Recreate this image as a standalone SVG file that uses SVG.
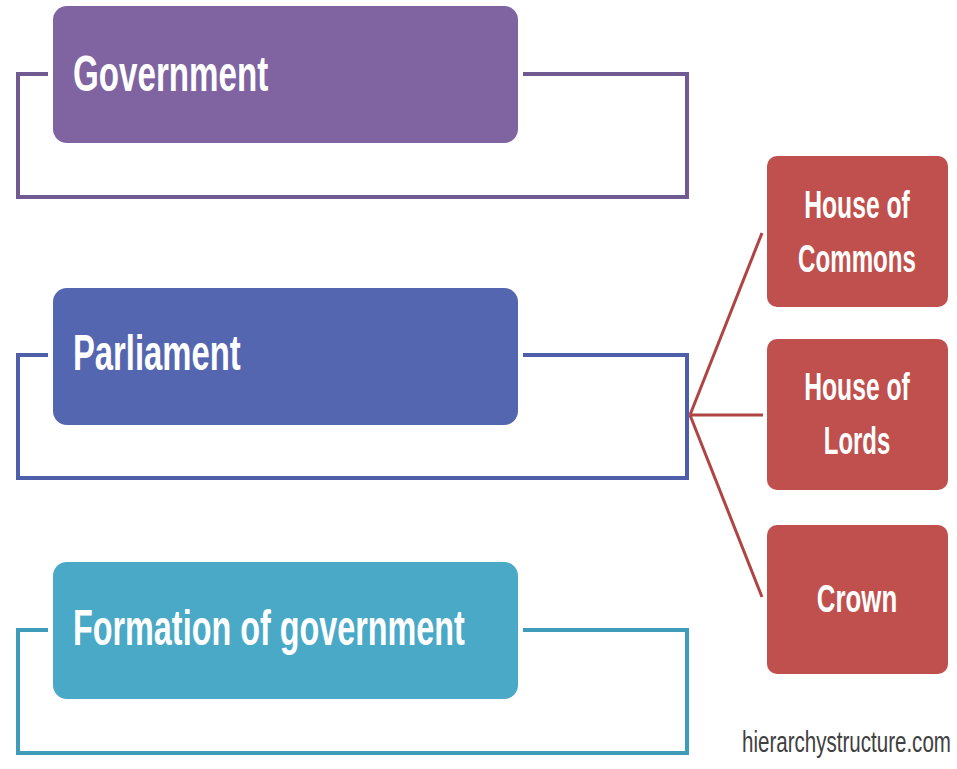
<svg xmlns="http://www.w3.org/2000/svg" width="957" height="769" viewBox="0 0 957 769">
  <style>
    .bracket { fill: none; stroke-width: 4; stroke-linejoin: miter; }
    .head { font-family: "Liberation Sans", Arial, sans-serif; font-weight: bold; font-size: 50px; fill: #ffffff; }
    .sub { font-family: "Liberation Sans", Arial, sans-serif; font-weight: bold; font-size: 38px; fill: #ffffff; text-anchor: middle; }
    .red { fill: #c0504d; }
    .link { stroke: #b04444; stroke-width: 3; fill: none; }
    .mark { font-family: "Liberation Sans", Arial, sans-serif; font-size: 30px; fill: #404040; }
  </style>
  <rect width="957" height="769" fill="#ffffff"/>

  <!-- connectors: frames around each section and links to the parliament parts -->
  <g id="connectors">
    <path class="bracket" stroke="#6f5b92" d="M48 74 H18 V197 H687 V74 H523"/>
    <path class="bracket" stroke="#4e5ea8" d="M48 355 H18 V478 H687 V355 H523"/>
    <path class="bracket" stroke="#3f9cb8" d="M48 630 H18 V753 H687 V630 H523"/>
    <path class="link" d="M690 415 L762 233"/>
    <path class="link" d="M690 415 H763" stroke-width="5"/>
    <path class="link" d="M690 415 L762 597"/>
  </g>

  <!-- condensed lettering: bold sans squeezed horizontally -->
  <g id="government">
    <rect x="53" y="6" width="465" height="137" rx="14" fill="#8063a1"/>
    <text class="head" transform="translate(73 91) scale(0.663 1)">Government</text>
  </g>

  <g id="parliament">
    <rect x="53" y="288" width="465" height="137" rx="14" fill="#5566b1"/>
    <text class="head" transform="translate(73 370) scale(0.656 1)">Parliament</text>
  </g>

  <g id="formation">
    <rect x="53" y="562" width="465" height="137" rx="14" fill="#49a9c6"/>
    <text class="head" transform="translate(73 645) scale(0.647 1)">Formation of government</text>
  </g>

  <g id="commons">
    <rect class="red" x="767" y="156" width="181" height="151" rx="10"/>
    <text class="sub" transform="translate(857 218) scale(0.65 1)">House of</text>
    <text class="sub" transform="translate(857 272) scale(0.635 1)">Commons</text>
  </g>

  <g id="lords">
    <rect class="red" x="767" y="339" width="181" height="151" rx="10"/>
    <text class="sub" transform="translate(857 400) scale(0.65 1)">House of</text>
    <text class="sub" transform="translate(857 454) scale(0.63 1)">Lords</text>
  </g>

  <g id="crown">
    <rect class="red" x="767" y="525" width="181" height="149" rx="10"/>
    <text class="sub" transform="translate(857 612) scale(0.68 1)">Crown</text>
  </g>

  <text class="mark" transform="translate(742 752) scale(0.685 1)">hierarchystructure.com</text>
</svg>
